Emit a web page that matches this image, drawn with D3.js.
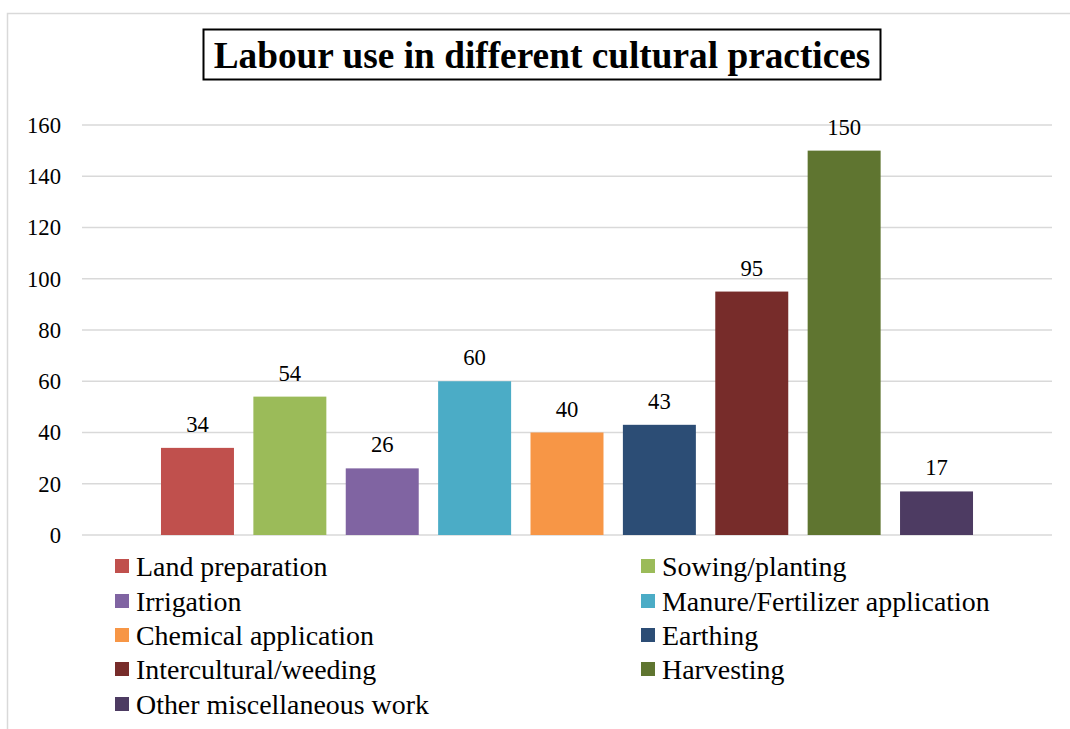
<!DOCTYPE html>
<html>
<head>
<meta charset="utf-8">
<script src="https://cdn.jsdelivr.net/npm/d3@7"></script>
<style>
  html, body { margin: 0; padding: 0; background: #fff; }
  svg { display: block; }
  svg text { font-family: "Liberation Serif", "Times New Roman", Times, "DejaVu Serif", serif; }
</style>
</head>
<body>
<svg id="chart" width="1070" height="729"></svg>
<script>
const categories = ["Land preparation", "Sowing/planting", "Irrigation", "Manure/Fertilizer application",
  "Chemical application", "Earthing", "Intercultural/weeding", "Harvesting", "Other miscellaneous work"];
const values = [34, 54, 26, 60, 40, 43, 95, 150, 17];
const colors = ["#C0504D", "#9BBB59", "#8064A2", "#4BACC6", "#F79646", "#2C4D75", "#772C2A", "#5F7530", "#4D3B62"];
const yTicks = [0, 20, 40, 60, 80, 100, 120, 140, 160];
const title = "Labour use in different cultural practices";

const svg = d3.select("#chart");

// helper: font size so that a sample string reaches a target width
function fitSize(sample, targetW, baseSize, weight) {
  const t = svg.append("text").attr("font-size", baseSize).attr("font-weight", weight || "normal").text(sample);
  const w = t.node().getComputedTextLength();
  t.remove();
  return Math.min(baseSize * 1.4, Math.max(baseSize * 0.8, baseSize * targetW / w));
}
const numSize = fitSize("160", 34, 22);
const titleSize = fitSize(title, 657, 35, "bold");
const legSize = fitSize("Manure/Fertilizer application", 328, 24);

// outer chart border
svg.append("rect").attr("x", 7.5).attr("y", 13.5).attr("width", 1080).attr("height", 740)
  .attr("fill", "#fff").attr("stroke", "#d9d9d9").attr("stroke-width", 1.5);

const plot = { left: 82, right: 1052, top: 125, bottom: 535 };

const x = d3.scaleBand().domain(categories).range([plot.left, plot.right])
  .paddingInner(0.21).paddingOuter(0.855);
const y = d3.scaleLinear().domain([0, 160]).range([plot.bottom, plot.top]);

// gridlines
svg.append("g").selectAll("line").data(yTicks).join("line")
  .attr("x1", plot.left).attr("x2", plot.right)
  .attr("y1", d => y(d)).attr("y2", d => y(d))
  .attr("stroke", "#d9d9d9").attr("stroke-width", 1.5);

// y axis labels
const yAxis = d3.axisLeft(y).tickValues(yTicks).tickSize(0).tickPadding(0);
const ya = svg.append("g").attr("transform", `translate(61,0)`).call(yAxis);
ya.select(".domain").remove();
ya.attr("font-family", null);
ya.selectAll("text").attr("font-size", numSize).attr("fill", "#000");

// bars
svg.append("g").selectAll("rect").data(categories).join("rect")
  .attr("x", d => x(d)).attr("width", x.bandwidth())
  .attr("y", (d, i) => y(values[i])).attr("height", (d, i) => y(0) - y(values[i]))
  .attr("fill", (d, i) => colors[i]);

// data labels
svg.append("g").selectAll("text").data(categories).join("text")
  .attr("x", d => x(d) + x.bandwidth() / 2)
  .attr("y", (d, i) => y(values[i]) - 16)
  .attr("text-anchor", "middle")
  .attr("font-size", numSize).attr("fill", "#000")
  .text((d, i) => values[i]);

// title
const tg = svg.append("g");
const tt = tg.append("text").attr("x", 542).attr("y", 68).attr("text-anchor", "middle")
  .attr("font-weight", "bold").attr("font-size", titleSize).attr("fill", "#000")
  .text(title);
tg.insert("rect", "text").attr("x", 203.5).attr("y", 29.5).attr("width", 677).attr("height", 50)
  .attr("fill", "#fff").attr("stroke", "#000").attr("stroke-width", 2);

// legend
const legendCols = [115, 641];
const legendRows = [566, 601, 635, 669, 704];
const lg = svg.append("g").selectAll("g").data(categories).join("g")
  .attr("transform", (d, i) => `translate(${legendCols[i % 2]},${legendRows[Math.floor(i / 2)]})`);
lg.append("rect").attr("x", 0).attr("y", -7).attr("width", 14).attr("height", 14)
  .attr("fill", (d, i) => colors[i]);
lg.append("text").attr("x", 21).attr("y", 0).attr("dy", "0.36em")
  .attr("font-size", legSize).attr("fill", "#000")
  .text(d => d);
</script>
</body>
</html>
